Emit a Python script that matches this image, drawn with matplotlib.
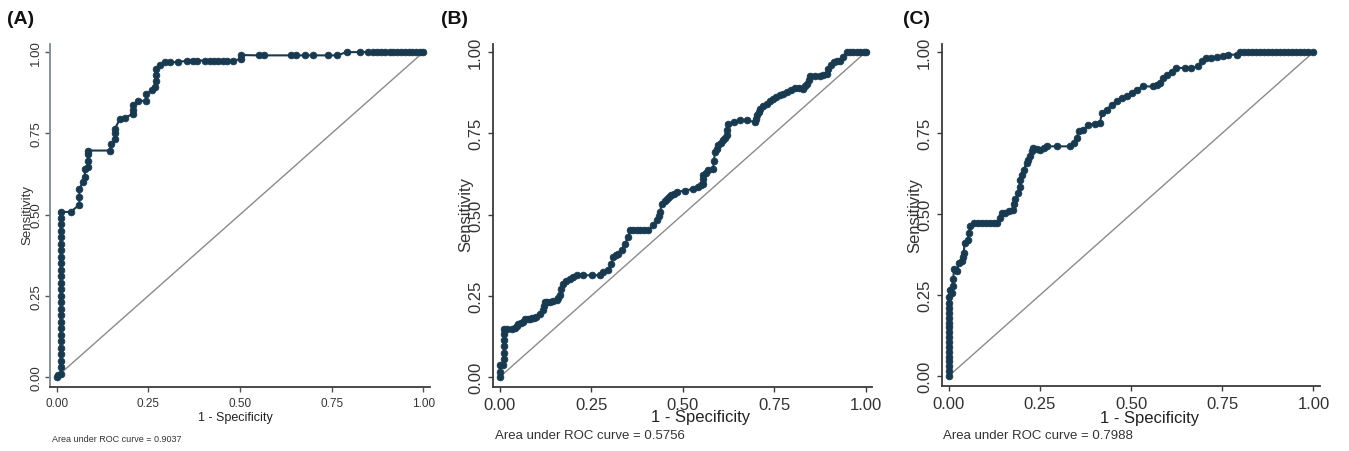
import matplotlib
matplotlib.use("Agg")
import matplotlib.pyplot as plt
from matplotlib import font_manager

# ---------------- data ----------------
panel_labels = ["(A)", "(B)", "(C)"]
auc_texts = ["Area under ROC curve = 0.9037",
             "Area under ROC curve = 0.5756",
             "Area under ROC curve = 0.7988"]
tick_values = [0.00, 0.25, 0.50, 0.75, 1.00]
tick_labels = ["0.00", "0.25", "0.50", "0.75", "1.00"]

a_fpr = [0.000, 0.005, 0.011, 0.011, 0.011, 0.011, 0.011, 0.011, 0.011, 0.011, 0.011, 0.011,
         0.011, 0.011, 0.011, 0.011, 0.011, 0.011, 0.011, 0.011, 0.011, 0.011, 0.011, 0.011,
         0.011, 0.011, 0.011, 0.011, 0.038, 0.062, 0.062, 0.062, 0.073, 0.077, 0.077, 0.086,
         0.086, 0.086, 0.086, 0.145, 0.149, 0.159, 0.159, 0.159, 0.173, 0.186, 0.207, 0.207,
         0.207, 0.223, 0.245, 0.245, 0.259, 0.268, 0.270, 0.270, 0.271, 0.281, 0.295, 0.309,
         0.332, 0.355, 0.372, 0.382, 0.405, 0.418, 0.430, 0.441, 0.453, 0.464, 0.482, 0.502,
         0.502, 0.552, 0.565, 0.638, 0.652, 0.677, 0.700, 0.741, 0.764, 0.791, 0.827, 0.850,
         0.862, 0.873, 0.885, 0.896, 0.908, 0.918, 0.929, 0.940, 0.950, 0.960, 0.970, 0.980,
         0.990, 1.000]
a_tpr = [0.000, 0.005, 0.010, 0.030, 0.050, 0.070, 0.090, 0.110, 0.130, 0.150, 0.170, 0.190,
         0.210, 0.230, 0.250, 0.270, 0.290, 0.310, 0.330, 0.350, 0.370, 0.390, 0.410, 0.430,
         0.450, 0.470, 0.490, 0.508, 0.508, 0.530, 0.555, 0.580, 0.600, 0.615, 0.641, 0.646,
         0.665, 0.685, 0.697, 0.697, 0.718, 0.733, 0.750, 0.764, 0.795, 0.797, 0.810, 0.823,
         0.836, 0.851, 0.849, 0.872, 0.882, 0.892, 0.910, 0.930, 0.949, 0.961, 0.969, 0.969,
         0.969, 0.974, 0.974, 0.974, 0.974, 0.974, 0.974, 0.974, 0.974, 0.974, 0.974, 0.979,
         0.991, 0.990, 0.990, 0.990, 0.990, 0.990, 0.990, 0.990, 0.990, 1.000, 1.000, 1.000,
         1.000, 1.000, 1.000, 1.000, 1.000, 1.000, 1.000, 1.000, 1.000, 1.000, 1.000, 1.000,
         1.000, 1.000]

b_fpr = [0.000, 0.000, 0.000, 0.009, 0.011, 0.011, 0.011, 0.011, 0.011, 0.011, 0.020, 0.032,
         0.040, 0.046, 0.050, 0.057, 0.064, 0.068, 0.076, 0.082, 0.087, 0.094, 0.100, 0.109,
         0.118, 0.120, 0.123, 0.130, 0.137, 0.146, 0.155, 0.160, 0.164, 0.168, 0.173, 0.182,
         0.191, 0.200, 0.210, 0.228, 0.251, 0.273, 0.283, 0.296, 0.305, 0.310, 0.318, 0.324,
         0.333, 0.342, 0.351, 0.356, 0.365, 0.374, 0.383, 0.395, 0.406, 0.419, 0.429, 0.434,
         0.438, 0.442, 0.450, 0.456, 0.463, 0.469, 0.476, 0.483, 0.506, 0.529, 0.542, 0.550,
         0.556, 0.556, 0.556, 0.563, 0.570, 0.583, 0.585, 0.588, 0.593, 0.597, 0.604, 0.611,
         0.616, 0.620, 0.622, 0.624, 0.640, 0.656, 0.675, 0.697, 0.700, 0.702, 0.707, 0.711,
         0.720, 0.729, 0.738, 0.747, 0.756, 0.766, 0.775, 0.784, 0.796, 0.807, 0.818, 0.829,
         0.834, 0.839, 0.844, 0.848, 0.861, 0.875, 0.884, 0.893, 0.898, 0.905, 0.912, 0.921,
         0.930, 0.939, 0.948, 0.957, 0.966, 0.975, 0.985, 0.995, 1.000]
b_tpr = [0.000, 0.015, 0.036, 0.036, 0.055, 0.075, 0.095, 0.115, 0.132, 0.149, 0.149, 0.149,
         0.152, 0.156, 0.164, 0.166, 0.169, 0.179, 0.179, 0.179, 0.181, 0.183, 0.185, 0.195,
         0.205, 0.218, 0.231, 0.231, 0.231, 0.233, 0.236, 0.244, 0.251, 0.270, 0.287, 0.295,
         0.303, 0.308, 0.313, 0.313, 0.313, 0.313, 0.323, 0.328, 0.349, 0.369, 0.374, 0.379,
         0.390, 0.410, 0.431, 0.451, 0.451, 0.451, 0.451, 0.451, 0.451, 0.467, 0.482, 0.495,
         0.508, 0.533, 0.541, 0.549, 0.554, 0.559, 0.564, 0.569, 0.574, 0.579, 0.585, 0.590,
         0.595, 0.610, 0.621, 0.628, 0.636, 0.641, 0.665, 0.692, 0.703, 0.713, 0.720, 0.728,
         0.736, 0.744, 0.760, 0.779, 0.785, 0.790, 0.790, 0.785, 0.795, 0.805, 0.815, 0.826,
         0.833, 0.841, 0.849, 0.856, 0.862, 0.867, 0.872, 0.877, 0.883, 0.889, 0.889, 0.887,
         0.895, 0.903, 0.915, 0.928, 0.928, 0.928, 0.930, 0.933, 0.949, 0.959, 0.969, 0.972,
         0.974, 0.985, 1.000, 1.000, 1.000, 1.000, 1.000, 1.000, 1.000]

c_fpr = [0.000, 0.000, 0.000, 0.000, 0.000, 0.000, 0.000, 0.000, 0.000, 0.000, 0.000, 0.000,
         0.000, 0.000, 0.000, 0.000, 0.000, 0.003, 0.009, 0.010, 0.012, 0.014, 0.023, 0.027,
         0.036, 0.038, 0.041, 0.043, 0.052, 0.055, 0.059, 0.068, 0.080, 0.091, 0.102, 0.114,
         0.123, 0.132, 0.139, 0.146, 0.155, 0.165, 0.176, 0.179, 0.182, 0.191, 0.194, 0.196,
         0.200, 0.205, 0.214, 0.218, 0.222, 0.228, 0.232, 0.242, 0.251, 0.260, 0.269, 0.296,
         0.333, 0.342, 0.351, 0.356, 0.369, 0.383, 0.400, 0.415, 0.419, 0.433, 0.447, 0.460,
         0.474, 0.488, 0.501, 0.515, 0.533, 0.561, 0.570, 0.579, 0.588, 0.597, 0.611, 0.624,
         0.647, 0.665, 0.684, 0.693, 0.706, 0.720, 0.735, 0.752, 0.766, 0.789, 0.798, 0.810,
         0.821, 0.832, 0.843, 0.854, 0.865, 0.876, 0.887, 0.898, 0.909, 0.920, 0.931, 0.942,
         0.953, 0.964, 0.975, 0.986, 1.000]
c_tpr = [0.000, 0.015, 0.030, 0.045, 0.060, 0.075, 0.090, 0.105, 0.120, 0.135, 0.150, 0.165,
         0.180, 0.195, 0.210, 0.225, 0.245, 0.267, 0.257, 0.278, 0.298, 0.329, 0.324, 0.349,
         0.355, 0.368, 0.380, 0.411, 0.421, 0.442, 0.462, 0.473, 0.473, 0.473, 0.473, 0.473,
         0.473, 0.473, 0.488, 0.504, 0.504, 0.509, 0.514, 0.530, 0.545, 0.565, 0.585, 0.606,
         0.621, 0.637, 0.658, 0.668, 0.678, 0.694, 0.704, 0.702, 0.699, 0.704, 0.709, 0.709,
         0.709, 0.719, 0.735, 0.755, 0.760, 0.776, 0.779, 0.781, 0.812, 0.822, 0.838, 0.848,
         0.858, 0.863, 0.874, 0.884, 0.894, 0.894, 0.899, 0.904, 0.920, 0.930, 0.940, 0.951,
         0.951, 0.951, 0.956, 0.971, 0.982, 0.982, 0.985, 0.987, 0.992, 0.992, 1.000, 1.000,
         1.000, 1.000, 1.000, 1.000, 1.000, 1.000, 1.000, 1.000, 1.000, 1.000, 1.000, 1.000,
         1.000, 1.000, 1.000, 1.000, 1.000]

curves = [(a_fpr, a_tpr), (b_fpr, b_tpr), (c_fpr, c_tpr)]

# ---------------- style ----------------
names = {f.name for f in font_manager.fontManager.ttflist}
NARROW = "Liberation Sans Narrow" if "Liberation Sans Narrow" in names else "Liberation Sans"
plt.rcParams["font.family"] = ["Liberation Sans", "DejaVu Sans"]

CURVE = "#173a50"
DIAG = "#8a8a8a"
AX = "#3a3a3a"

fig = plt.figure(figsize=(13.49, 4.52), dpi=100)
W, H = 1349.0, 452.0

# axes boxes in pixels: left spine, right end, bottom spine, top
boxes = [(50.0, 430.0, 387.7, 45.0),
         (493.3, 872.3, 387.7, 45.0),
         (942.3, 1320.0, 386.7, 45.0)]
title_pos = [(7, 20), (441, 20), (903, 20)]
auc_pos = [(52, 440), (495, 436), (943, 436)]
xlabel_cx = [235, 701, 1150]
ylabel_cx = [27, 466, 915]

for i, (fpr, tpr) in enumerate(curves):
    l, r, b, t = boxes[i]
    ax = fig.add_axes([l / W, 1 - b / H, (r - l) / W, (b - t) / H])
    ax.set_xlim(-0.018, 1.018)
    ax.set_ylim(-0.03, 1.025)
    ax.plot([0, 1], [0, 1], color=DIAG, lw=1.0, zorder=1)
    ax.plot(fpr, tpr, color=CURVE, lw=1.5, marker="o", ms=4.8,
            markeredgewidth=0.6, markeredgecolor=CURVE, zorder=3)
    for s in ["top", "right"]:
        ax.spines[s].set_visible(False)
    for s in ["left", "bottom"]:
        ax.spines[s].set_color(AX if i > 0 or s == "bottom" else "#7d8a96")
        ax.spines[s].set_linewidth(1.3)
    ax.set_xticks(tick_values)
    ax.set_yticks(tick_values)
    if i == 0:
        ax.set_xticklabels(tick_labels, fontsize=8.5, family=[NARROW, "DejaVu Sans"], color="#333333")
        ax.set_yticklabels(tick_labels, fontsize=9.5, rotation=90, va="center", color="#333333")
        ax.tick_params(axis="both", direction="out", length=3.5, width=1.0, colors="#555555")
        ax.tick_params(axis="y", pad=2)
        ax.tick_params(axis="x", pad=4)
        ax.set_ylabel("Sensitivity", fontsize=9.5, color="#333333")
        ax.set_xlabel("1 - Specificity", fontsize=9, family=[NARROW, "DejaVu Sans"], color="#222222")
        ax.text(auc_pos[i][0] / W, 1 - auc_pos[i][1] / H, auc_texts[i], transform=fig.transFigure,
                fontsize=6.5, family=[NARROW, "DejaVu Sans"], color="#333333", ha="left", va="center")
    else:
        ax.set_xticklabels(tick_labels, fontsize=12, color="#333333")
        ax.set_yticklabels(tick_labels, fontsize=12, rotation=90, va="center", color="#333333")
        ax.tick_params(axis="both", direction="out", length=3.8, width=1.0, colors=AX)
        ax.tick_params(axis="both", pad=3.5)
        ax.set_ylabel("Sensitivity", fontsize=12, color="#333333")
        ax.set_xlabel("1 - Specificity", fontsize=12, color="#222222")
        ax.text(auc_pos[i][0] / W, 1 - auc_pos[i][1] / H, auc_texts[i], transform=fig.transFigure,
                fontsize=9.5, color="#333333", ha="left", va="center")
    for lab in ax.get_xticklabels() + ax.get_yticklabels():
        lab.set_color("#333333")
    ax.xaxis.set_label_coords((xlabel_cx[i] - l) / (r - l), (b - 418) / (b - t))
    ax.xaxis.label.set_va("center")
    ax.yaxis.set_label_coords((ylabel_cx[i] - l) / (r - l), (b - 215) / (b - t))
    ax.yaxis.label.set_va("center")
    fig.text(title_pos[i][0] / W, 1 - title_pos[i][1] / H, panel_labels[i],
             fontsize=14, fontweight="bold", ha="left", va="center", color="#111111")

fig.savefig("out.png", dpi=100)
